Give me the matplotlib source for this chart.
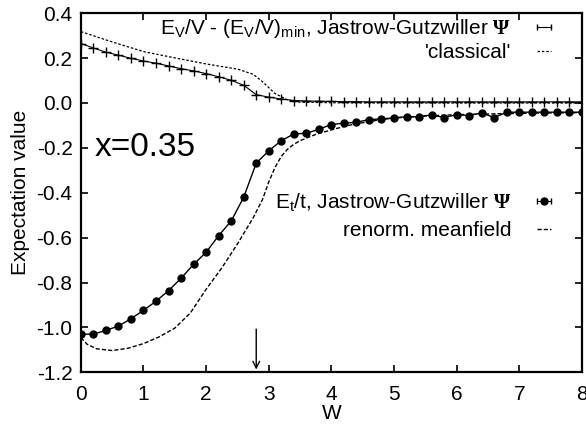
import numpy as np
import matplotlib
matplotlib.use("Agg")
import matplotlib.pyplot as plt
from matplotlib.lines import Line2D
from matplotlib.legend_handler import HandlerLine2D
from matplotlib.ticker import FormatStrFormatter, MultipleLocator

plt.rcParams['font.family'] = ['Liberation Sans', 'DejaVu Sans']
plt.rcParams['mathtext.fontset'] = 'custom'
plt.rcParams['mathtext.rm'] = 'Liberation Sans'
plt.rcParams['mathtext.it'] = 'Liberation Sans:italic'
plt.rcParams['mathtext.bf'] = 'Liberation Serif:bold'
plt.rcParams['axes.unicode_minus'] = False

# W grid for the variational (Jastrow-Gutzwiller) data, step 0.2
w_vmc = np.round(np.arange(0, 8.01, 0.2), 1)

# E_t/t, Jastrow-Gutzwiller (filled circles)
et_vmc = [-1.030, -1.030, -1.013, -0.994, -0.961, -0.924, -0.883, -0.836, -0.781, -0.719,
          -0.665, -0.591, -0.526, -0.420, -0.268, -0.213, -0.168, -0.138, -0.135, -0.117,
          -0.096, -0.090, -0.086, -0.074, -0.071, -0.066, -0.061, -0.061, -0.053, -0.065,
          -0.052, -0.056, -0.044, -0.065, -0.041, -0.041, -0.041, -0.041, -0.041, -0.041,
          -0.041]

# E_V/V - (E_V/V)_min, Jastrow-Gutzwiller (plus markers)
ev_vmc = [0.265, 0.245, 0.226, 0.213, 0.199, 0.187, 0.177, 0.165, 0.153, 0.143,
          0.131, 0.117, 0.101, 0.079, 0.037, 0.026, 0.018, 0.011, 0.009, 0.008,
          0.007, 0.006, 0.006, 0.005, 0.005, 0.005, 0.005, 0.005, 0.005, 0.005,
          0.005, 0.005, 0.005, 0.005, 0.005, 0.005, 0.005, 0.005, 0.005, 0.005,
          0.005]

# 'classical' curve
w_cl = [0, 0.5, 1.0, 1.5, 2.0, 2.5, 2.75, 2.9, 3.1, 3.3, 3.5, 4.0, 5.0, 6.0, 7.0, 8.0]
ev_cl = [0.318, 0.272, 0.229, 0.201, 0.174, 0.151, 0.128, 0.095, 0.042, 0.014, 0.004, 0.001, 0.0, 0.0, 0.0, 0.0]

# renormalized meanfield curve
w_mf = [0, 0.1, 0.25, 0.5, 0.75, 1.0, 1.25, 1.5, 1.75, 2.0, 2.25, 2.5, 2.75, 2.9,
        3.0, 3.1, 3.2, 3.3, 3.4, 3.5, 3.75, 4.0, 4.25, 4.5, 4.75, 5.0, 5.5, 6.0, 7.0, 8.0]
et_mf = [-1.045, -1.075, -1.095, -1.103, -1.093, -1.072, -1.042, -1.003, -0.935, -0.830,
         -0.735, -0.628, -0.512, -0.430, -0.352, -0.287, -0.238, -0.206, -0.184, -0.168,
         -0.140, -0.120, -0.101, -0.088, -0.076, -0.067, -0.058, -0.052, -0.046, -0.043]

fs = 15

fig = plt.figure(figsize=(5.86, 4.26), dpi=100)
ax = fig.add_axes([0.138, 0.126, 0.855, 0.843])

ax.plot(w_vmc, ev_vmc, color='black', lw=0.8, marker='+', ms=6.5, mew=1.0)
ax.plot(w_cl, ev_cl, color='black', lw=0.9, ls=(0, (2, 1.5)))
ax.plot(w_vmc, et_vmc, color='black', lw=1.0, marker='o', ms=5)
ax.plot(w_mf, et_mf, color='black', lw=1.0, ls=(0, (3, 1.5)))

ax.annotate('', xy=(2.8, -1.2), xytext=(2.8, -0.995),
            arrowprops=dict(arrowstyle='->', color='black', lw=1.0, mutation_scale=12))

ax.text(0.22, -0.2, 'x=0.35', fontsize=24, va='center', ha='left')

ax.set_xlim(0, 8)
ax.set_ylim(-1.2, 0.4)
ax.xaxis.set_major_locator(MultipleLocator(1))
ax.yaxis.set_major_locator(MultipleLocator(0.2))
ax.yaxis.set_major_formatter(FormatStrFormatter('%.1f'))
ax.tick_params(direction='in', length=5, width=1.2, top=True, right=True,
               labelsize=fs)
ax.tick_params(axis='x', pad=9)
ax.tick_params(axis='y', pad=6)
for s in ax.spines.values():
    s.set_linewidth(1.6)

ax.set_xlabel('W', fontsize=fs, labelpad=0)
ax.set_ylabel('Expectation value', fontsize=fs, labelpad=5)

# legend keys in the gnuplot style
h_ev = Line2D([], [], color='black', lw=0.8, marker='|', ms=5)
h_cl = Line2D([], [], color='black', lw=0.9, ls=(0, (2, 1.5)))
h_et_bar = Line2D([], [], color='black', lw=0.8, marker='|', ms=5)
h_et_dot = Line2D([], [], color='black', lw=0, marker='o', ms=5)
h_mf = Line2D([], [], color='black', lw=1.0, ls=(0, (3, 1.5)))

leg1 = ax.legend([h_ev, h_cl],
                 [r'E$_\mathrm{V}$/V - (E$_\mathrm{V}$/V)$_\mathrm{min}$, Jastrow-Gutzwiller $\mathbf{\Psi}$',
                  "'classical'"],
                 loc='upper right', bbox_to_anchor=(0.951, 0.99), frameon=False,
                 markerfirst=False, numpoints=2, handlelength=1.3, handletextpad=0.9,
                 borderpad=0, borderaxespad=0, labelspacing=0.15, fontsize=fs)
ax.add_artist(leg1)

ax.legend([(h_et_bar, h_et_dot), h_mf],
          [r'E$_\mathrm{t}$/t, Jastrow-Gutzwiller $\mathbf{\Psi}$', 'renorm. meanfield'],
          loc='upper right', bbox_to_anchor=(0.951, 0.503), frameon=False,
          markerfirst=False, numpoints=2, handlelength=1.3, handletextpad=0.9,
          borderpad=0, borderaxespad=0, labelspacing=0.35, fontsize=fs,
          handler_map={h_et_dot: HandlerLine2D(numpoints=1)})

fig.savefig('out.png', dpi=100)
